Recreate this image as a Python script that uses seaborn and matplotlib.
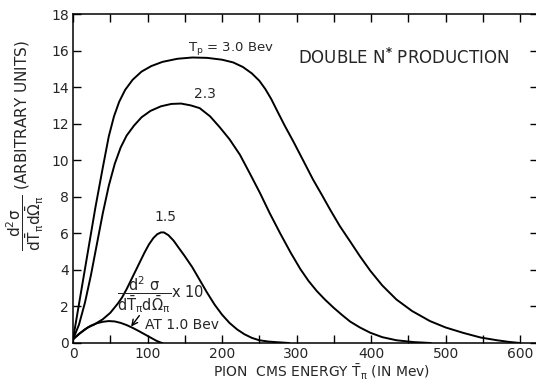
import matplotlib
matplotlib.use("Agg")
import matplotlib.pyplot as plt
import seaborn as sns
import pandas as pd

# Pion CMS energy (MeV) and cross-section values (arbitrary units) for each beam energy
energy_30 = [0, 10, 20, 30, 40, 48, 55, 62, 70, 80, 92, 105, 120, 140, 160, 180, 200,
             215, 228, 240, 250, 258, 266, 274, 284, 296, 310, 322, 334, 345, 358, 372,
             385, 399, 415, 434, 455, 479, 500, 524, 547, 569, 585, 600]
value_30 = [0.2, 2.6, 5.0, 7.4, 9.6, 11.3, 12.4, 13.2, 13.85, 14.4, 14.85, 15.15, 15.38,
            15.55, 15.62, 15.6, 15.5, 15.35, 15.1, 14.75, 14.35, 13.9, 13.35, 12.7, 11.9,
            11.0, 9.9, 8.95, 8.1, 7.3, 6.4, 5.55, 4.75, 3.95, 3.15, 2.38, 1.75, 1.2, 0.85,
            0.55, 0.3, 0.15, 0.06, 0.0]

energy_23 = [0, 8, 16, 24, 32, 40, 48, 56, 64, 72, 82, 92, 104, 118, 132, 145, 158, 170,
             184, 197, 210, 224, 237, 251, 264, 278, 292, 305, 316, 327, 338, 350, 362,
             372, 385, 399, 415, 434, 457, 480]
value_23 = [0.2, 1.0, 2.2, 3.7, 5.4, 7.1, 8.6, 9.8, 10.7, 11.35, 11.9, 12.35, 12.7, 12.95,
            13.08, 13.1, 13.0, 12.85, 12.4, 11.8, 11.15, 10.3, 9.3, 8.2, 7.1, 6.0, 4.95,
            4.05, 3.4, 2.85, 2.38, 1.92, 1.5, 1.17, 0.85, 0.56, 0.32, 0.15, 0.05, 0.0]

energy_15 = [0, 10, 20, 28, 40, 50, 60, 66, 72, 78, 84, 90, 96, 102, 108, 113, 118, 122,
             128, 135, 142, 150, 160, 170, 180, 190, 200, 210, 220, 230, 240, 250, 262,
             275, 290]
value_15 = [0.2, 0.55, 0.85, 1.0, 1.3, 1.65, 2.15, 2.5, 2.95, 3.45, 3.95, 4.45, 4.95, 5.4,
            5.75, 5.95, 6.05, 6.05, 5.9, 5.6, 5.2, 4.75, 4.15, 3.45, 2.75, 2.1, 1.55, 1.1,
            0.75, 0.48, 0.28, 0.15, 0.08, 0.04, 0.0]

# 1.0 BeV curve, drawn multiplied by 10
energy_10 = [0, 8, 16, 24, 32, 40, 48, 56, 64, 72, 80, 88, 96, 104, 112, 118, 120]
value_10 = [0.2, 0.5, 0.75, 0.95, 1.08, 1.16, 1.2, 1.18, 1.1, 0.98, 0.83, 0.66, 0.48,
            0.3, 0.12, 0.02, 0.0]

series_names = ["3.0", "2.3", "1.5", "1.0 x 10"]

frames = []
for name, xs, ys in zip(series_names,
                        [energy_30, energy_23, energy_15, energy_10],
                        [value_30, value_23, value_15, value_10]):
    frames.append(pd.DataFrame({"energy": xs, "value": ys, "series": name}))
df = pd.concat(frames, ignore_index=True)

sns.set_style("ticks")
plt.rcParams["font.family"] = ["DejaVu Sans"]
plt.rcParams["mathtext.default"] = "regular"

fig = plt.figure(figsize=(5.36, 3.81), dpi=100)
ax = fig.add_axes([73 / 536, 38 / 381, 465 / 536, 329 / 381])

sns.lineplot(data=df, x="energy", y="value", hue="series",
             palette={n: "black" for n in series_names}, estimator=None,
             linewidth=1.4, legend=False, ax=ax)

ax.set_xlim(0, 624)
ax.set_ylim(0, 18)
ax.set_xticks(range(0, 601, 100))
ax.set_xticks(range(50, 600, 100), minor=True)
ax.set_yticks(range(0, 19, 2))
ax.tick_params(which="both", direction="in", top=True, right=True,
               length=5.5, width=1.0, color="black", labelsize=10, pad=3)
for side in ax.spines.values():
    side.set_linewidth(1.1)
    side.set_color("black")

ax.set_xlabel(r"PION  CMS ENERGY $\bar{T}_\pi$ (IN Mev)", fontsize=10, va="top")
ax.xaxis.set_label_coords(0.535, -0.061)
ax.set_ylabel(r"$\dfrac{d^2\sigma}{d\bar{T}_\pi d\bar{\Omega}_\pi}$ (ARBITRARY UNITS)",
              fontsize=11)
ax.yaxis.set_label_coords(-0.058, 0.6)

ax.text(154, 16.1, r"T$_p$ = 3.0 Bev", fontsize=9.5, ha="left", va="center")
ax.text(177, 13.6, "2.3", fontsize=10, ha="center", va="center")
ax.text(124, 6.9, "1.5", fontsize=10, ha="center", va="center")
ax.text(444, 15.6, r"DOUBLE N$^{\mathbf{*}}$ PRODUCTION", fontsize=12,
        ha="center", va="center")
ax.text(59, 2.65, r"$\dfrac{d^2\ \sigma}{d\bar{T}_\pi d\bar{\Omega}_\pi}$x 10",
        fontsize=10.5, ha="left", va="center")
ax.text(97, 1.0, "AT 1.0 Bev", fontsize=10, ha="left", va="center")
ax.annotate("", xy=(78, 0.9), xytext=(89, 1.5),
            arrowprops=dict(arrowstyle="->", lw=1.0, color="black",
                            shrinkA=0, shrinkB=0))

fig.savefig("out.png", dpi=100)
